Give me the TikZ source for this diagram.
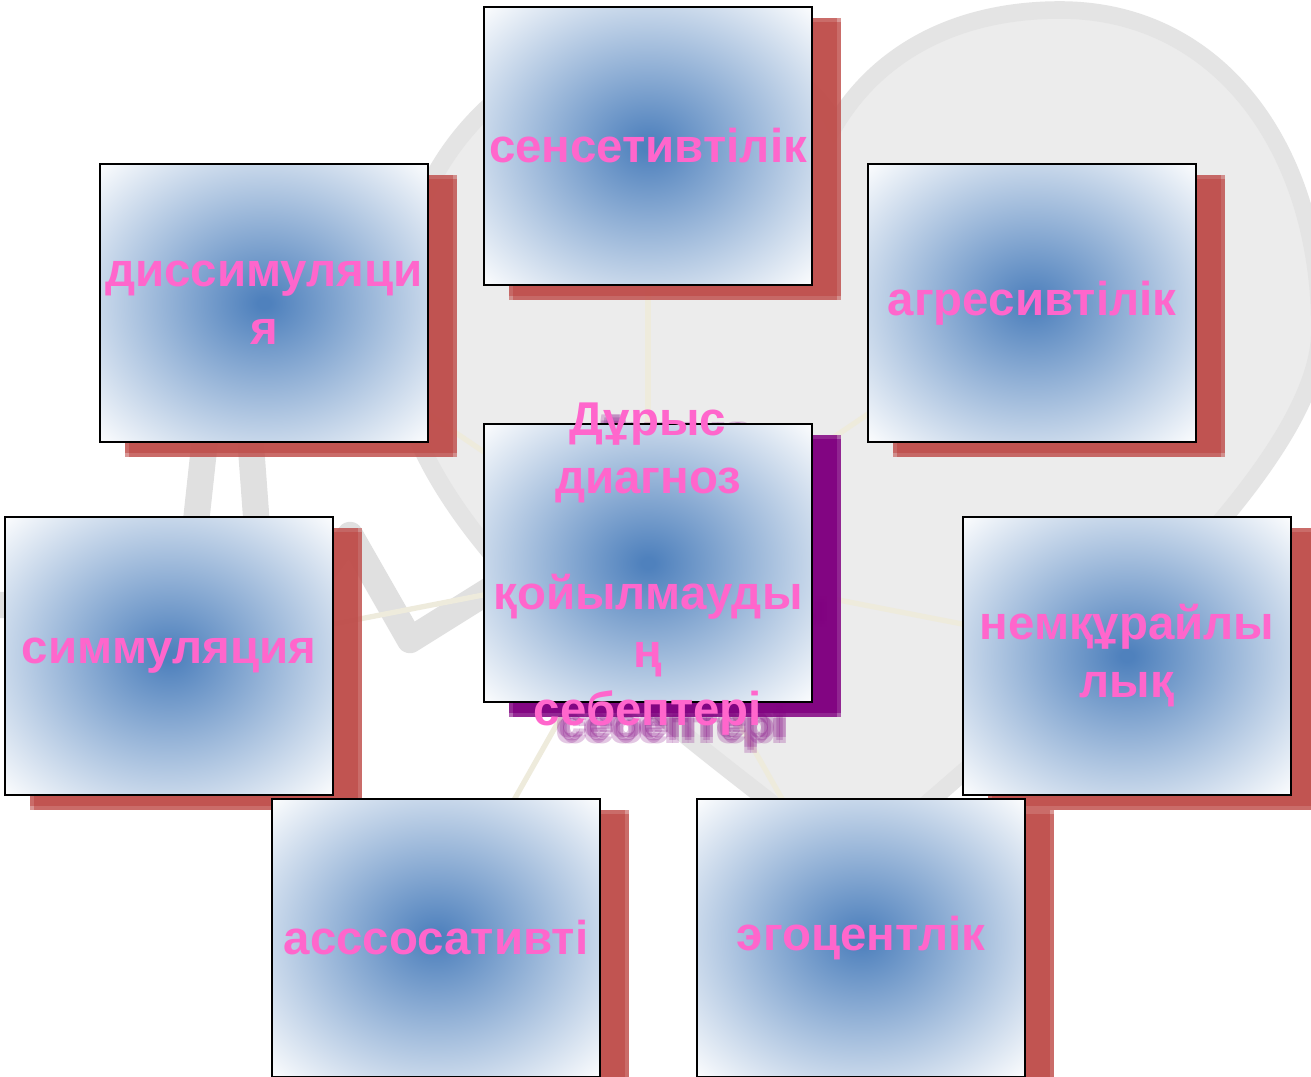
\documentclass[tikz,border=0pt]{standalone}
\usepackage{fontspec}
\setmainfont{Liberation Sans}
\usetikzlibrary{positioning,shadows}

\definecolor{glowblue}{RGB}{79,129,189}
\definecolor{shadowred}{RGB}{192,80,77}
\definecolor{shadowpurple}{RGB}{128,0,128}
\definecolor{labelpink}{RGB}{255,102,204}
\definecolor{spoke}{RGB}{238,235,220}
\definecolor{heartfill}{RGB}{236,236,236}
\definecolor{heartring}{RGB}{228,228,228}
\definecolor{pulse}{RGB}{224,224,224}

\pgfdeclareradialshading{boxglow}{\pgfpoint{0bp}{0bp}}{color(0bp)=(glowblue); color(1bp)=(glowblue); color(36bp)=(white); color(50bp)=(white)}
\pgfdeclarelayer{back}
\pgfsetlayers{back,main}

\newcommand\causefont{\fontsize{27}{33}\selectfont\bfseries}

\tikzset{
  causebox/.style={draw=black,line width=1.1pt,shading=boxglow,
    minimum width=6.56cm,minimum height=5.56cm,inner sep=0pt,
    align=center,text=labelpink,font=\causefont},
  softshadow/.style={
    drop shadow={shadow xshift=.50cm,shadow yshift=-.22cm,fill=#1,opacity=.6},
    drop shadow={shadow xshift=.58cm,shadow yshift=-.22cm,fill=#1,opacity=.6},
    drop shadow={shadow xshift=.50cm,shadow yshift=-.30cm,fill=#1,opacity=.6},
    drop shadow={shadow xshift=.58cm,shadow yshift=-.30cm,fill=#1,opacity=.6}},
  redbox/.style={causebox,softshadow=shadowred},
  purplebox/.style={causebox,softshadow=shadowpurple},
  corelabel/.style={align=center,text=labelpink,font=\causefont,inner sep=0pt},
  spokeline/.style={spoke,line width=3pt},
}

\begin{document}
\begin{tikzpicture}[x=0.02cm,y=-0.02cm]
\useasboundingbox (0,0) rectangle (1311,1077);
\clip (0,0) rectangle (1311,1077);

\node[redbox] (sens) at (648,146) {сенсетивтілік};
\node[redbox] (dissim) at (264,303) {диссимуляци\\я};
\node[redbox] (agres) at (1032,303) {агресивтілік};

% blurred shadow of the middle text
\foreach \dx/\dy [count=\i] in {-3/-3,3/-3,-3/3,3/3,0/0}
  \node[corelabel,text=shadowpurple,opacity=.22] (coreshade\i) at ({673+\dx},{584+\dy})
    {Дұрыс\\диагноз\\\mbox{}\\қойылмауды\\ң\\себептері};
\node[purplebox] (core) at (648,563) {};
\node[corelabel] (coretext) at (648,569)
  {Дұрыс\\диагноз\\\mbox{}\\қойылмауды\\ң\\себептері};

\node[redbox] (simm) at (169,656) {симмуляция};
\node[redbox] (nemk) at (1127,656) {немқұрайлы\\лық};
\node[redbox] (assoc) at (436,938) {асссосативті};
\node[redbox] (ego) at (861,938) {эгоцентлік};

\begin{pgfonlayer}{back}
\fill[white] (0,0) rectangle (1311,1077);
\filldraw[fill=heartfill,draw=heartring,line width=10pt]
  (854,867) .. controls (640,700) and (390,525) .. (395,330)
  .. controls (400,120) and (560,35) .. (660,35)
  .. controls (760,35) and (820,90) .. (835,125)
  .. controls (880,50) and (960,10) .. (1060,10)
  .. controls (1220,10) and (1320,150) .. (1320,330)
  .. controls (1320,480) and (1010,730) .. (854,867) -- cycle;
\draw[pulse,line width=15pt,line join=round,line cap=round]
  (-20,605) -- (187,605) -- (232,190) -- (266,650) -- (350,535)
  -- (410,640) -- (490,590) -- (560,570);
\foreach \n in {sens,dissim,agres,simm,nemk,assoc,ego}
  \draw[spokeline] (core.center) -- (\n.center);
\end{pgfonlayer}
\end{tikzpicture}
\end{document}
